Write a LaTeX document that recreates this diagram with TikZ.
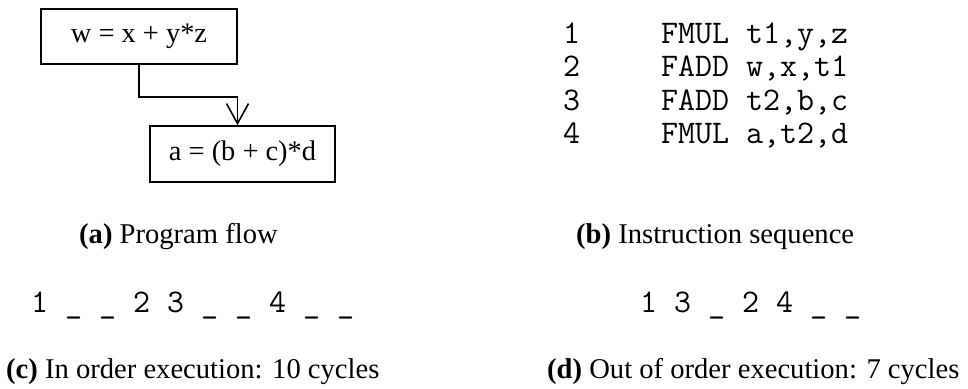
\documentclass[tikz,border=0pt]{standalone}
\usepackage{fontspec}
\setmainfont{Liberation Serif}
\usetikzlibrary{arrows.meta}
\begin{document}
\begin{tikzpicture}[x=1pt,y=-1pt,
  stmt/.style={draw,line width=1.6pt,inner sep=0pt,font=\fontsize{28.4}{33}\selectfont},
  caption/.style={anchor=base west,inner sep=0pt,font=\fontsize{28.6}{33}\selectfont},
  code/.style={anchor=base west,inner sep=0pt,font=\fontsize{33}{33}\ttfamily},
  flow/.style={line width=1.6pt,-{Straight Barb[length=20pt,width=22pt,line width=1.6pt]}}]
\useasboundingbox (0,0) rectangle (968,388);

% (a) program flow
\node[stmt,minimum width=196pt,minimum height=55pt] (w) at (139,36.5) {w = x + y*z};
\node[stmt,minimum width=185pt,minimum height=56pt] (a) at (242.5,154) {a = (b + c)*d};
\draw[flow] (w.south) -- ++(0,32) -| ([xshift=-5pt]a.north);
\node[caption] (capa) at (79,243) {\textbf{(a)} Program flow};

% (b) instruction sequence
\node[code] (n1) at (563,43)  {1};
\node[code] (n2) at (563,76.5) {2};
\node[code] (n3) at (563,110) {3};
\node[code] (n4) at (563,143.5) {4};
\node[code] (i1) at (661,43)  {FMUL t1,y,z};
\node[code] (i2) at (661,76.5) {FADD w,x,t1};
\node[code] (i3) at (661,110) {FADD t2,b,c};
\node[code] (i4) at (661,143.5) {FMUL a,t2,d};
\node[caption] (capb) at (576,243) {\textbf{(b)} Instruction sequence};

% (c) in-order issue
\node[code] (seqc) at (31,312) {1 \_ \_ 2 3 \_ \_ 4 \_ \_};
\node[caption] (capc) at (6,378) {\textbf{(c)} In order execution: 10 cycles};

% (d) out-of-order issue
\node[code] (seqd) at (640,312) {1 3 \_ 2 4 \_ \_};
\node[caption] (capd) at (547,378) {\textbf{(d)} Out of order execution: 7 cycles};
\end{tikzpicture}
\end{document}
